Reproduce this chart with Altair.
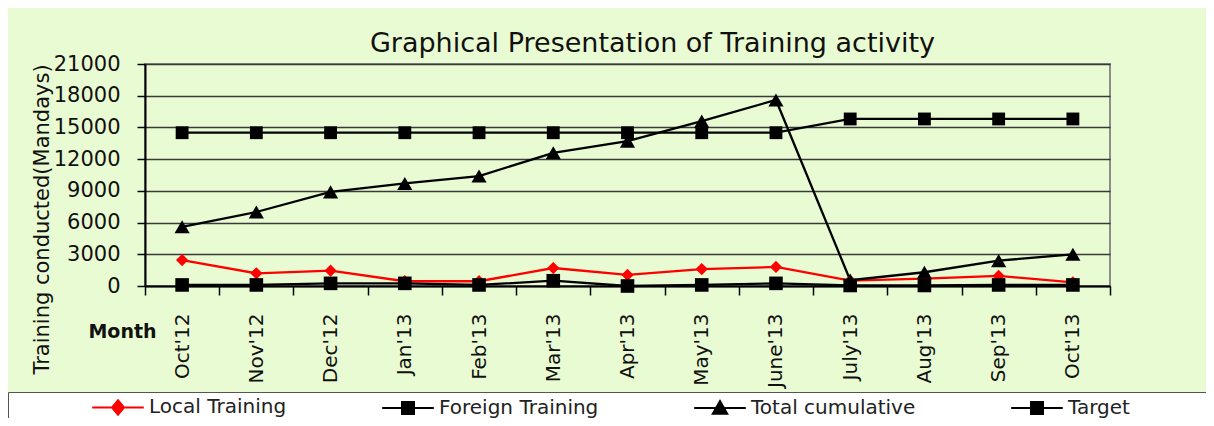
import altair as alt
import pandas as pd

months = ["Oct'12", "Nov'12", "Dec'12", "Jan'13", "Feb'13", "Mar'13", "Apr'13",
          "May'13", "June'13", "July'13", "Aug'13", "Sep'13", "Oct'13"]
local_training = [2450, 1200, 1450, 450, 450, 1700, 1050, 1600, 1800, 500, 700, 950, 350]
foreign_training = [100, 100, 250, 250, 100, 500, 0, 100, 250, 50, 50, 100, 100]
total_cumulative = [5600, 7000, 8900, 9700, 10400, 12600, 13700, 15600, 17600, 550, 1300, 2400, 3000]
target = [14500, 14500, 14500, 14500, 14500, 14500, 14500, 14500, 14500, 15800, 15800, 15800, 15800]

series_names = ["Local Training", "Foreign Training", "Total cumulative", "Target"]
series_values = [local_training, foreign_training, total_cumulative, target]
series_colors = ["#ff0000", "#000000", "#000000", "#000000"]
marker_shapes = ["diamond", "square", "triangle-up", "square"]
marker_sizes = [150, 185, 230, 165]
legend_paths = [
    "M-4.3,0L4.3,0M0,-1.2L1,0L0,1.2L-1,0Z",
    "M-4.3,0L4.3,0M-1,-1L1,-1L1,1L-1,1Z",
    "M-4.3,0L4.3,0M0,-1.15L1.2,0.95L-1.2,0.95Z",
    "M-4.3,0L4.3,0M-1,-1L1,-1L1,1L-1,1Z",
]

rows = []
for name, vals in zip(series_names, series_values):
    for i, (m, v) in enumerate(zip(months, vals)):
        rows.append({"month": m, "idx": i, "series": name, "value": v})
df = pd.DataFrame(rows)

FONT = "DejaVu Sans"

x_enc = alt.X(
    "month:N", sort=months, bandPosition=0.5,
    scale=alt.Scale(type="band", paddingInner=0, paddingOuter=0),
    axis=alt.Axis(
        title="Month", titleX=-23, titleY=45, titleAngle=0, titleAlign="center",
        titleBaseline="middle", titleFont=FONT, titleFontSize=19, titleFontWeight="bold",
        titleColor="#111",
        labelAngle=-90, labelAlign="right", labelBaseline="middle", labelFont=FONT,
        labelFontSize=20, labelColor="#111", labelPadding=18,
        tickBand="extent", tickSize=9, tickColor="#000", tickWidth=1.5,
        domainColor="#000", domainWidth=2, grid=False,
    ),
)
y_enc = alt.Y(
    "value:Q",
    scale=alt.Scale(domain=[0, 21000], nice=False, zero=True),
    axis=alt.Axis(
        title="Training conducted(Mandays)", values=list(range(0, 21001, 3000)), format="d",
        titleX=-97, titleY=155, titleAngle=-90, titleAlign="center", titleBaseline="alphabetic",
        titleFont=FONT, titleFontSize=21, titleFontWeight="normal", titleColor="#111",
        labelFont=FONT, labelFontSize=21, labelColor="#111", labelPadding=17,
        tickSize=8, tickColor="#000", tickWidth=1.5, domainColor="#000", domainWidth=2,
        grid=True, gridColor="#3a3a3a", gridWidth=1.5,
    ),
)

base = alt.Chart(df)

layers = []
for name, col in zip(series_names, series_colors):
    layers.append(
        base.transform_filter(alt.datum.series == name)
        .mark_line(strokeWidth=2.3, color=col)
        .encode(x=x_enc, y=y_enc, order=alt.Order("idx:Q"))
    )
for name, col, shp, sz in zip(series_names, series_colors, marker_shapes, marker_sizes):
    layers.append(
        base.transform_filter(alt.datum.series == name)
        .mark_point(filled=True, opacity=1, shape=shp, size=sz, color=col)
        .encode(x=x_enc, y=y_enc)
    )

BLANK = "\u2800"
legend_spec = alt.Legend(
    title=" ", titleOrient="left", titleFontSize=10, titlePadding=95,
    orient="none", legendX=-137, legendY=328, direction="horizontal",
    symbolSize=144, symbolStrokeWidth=2, symbolOpacity=1,
    labelFont=FONT, labelFontSize=20, labelColor="#222", labelOffset=21, labelLimit=500,
    labelExpr="datum.label == 'Target' ? 'Target" + BLANK * 5 + "' : datum.label",
    columnPadding=91, padding=5, fillColor="#ffffff", strokeColor="#555555",
)

legend_layer = base.mark_point(filled=True, strokeWidth=2, opacity=0).encode(
    x=x_enc, y=y_enc,
    fill=alt.Fill("series:N", scale=alt.Scale(domain=series_names, range=series_colors), legend=legend_spec),
    stroke=alt.Stroke("series:N", scale=alt.Scale(domain=series_names, range=series_colors), legend=legend_spec),
    shape=alt.Shape("series:N", scale=alt.Scale(domain=series_names, range=legend_paths), legend=legend_spec),
)
layers.append(legend_layer)

chart = alt.layer(*layers).properties(
    width=965, height=222,
    title=alt.TitleParams(
        "Graphical Presentation of Training activity", font=FONT, fontSize=27,
        fontWeight="normal", color="#111", anchor="middle", frame="group", dx=25, dy=5, offset=0,
    ),
    autosize=alt.AutoSizeParams(type="none"),
    padding={"left": 137, "top": 56, "right": 96, "bottom": 132},
    background="#e9fbd3",
).configure_view(
    stroke="#8c8c8c", strokeWidth=2, fill="#e9fbd3"
)

chart.save("out.html", embed_options={"renderer": "svg", "actions": False})
